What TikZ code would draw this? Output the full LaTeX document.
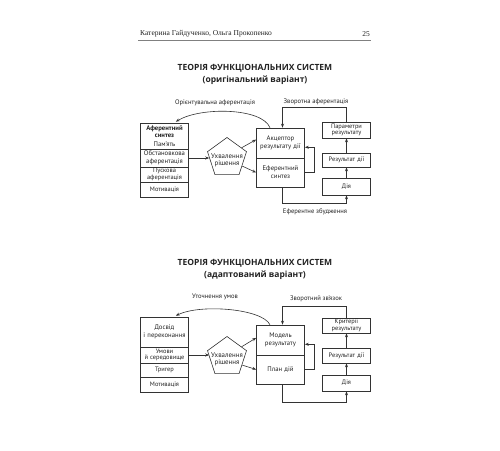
\documentclass[tikz,border=0pt]{standalone}
\usepackage{fontspec}
\setmainfont{Liberation Serif}
\newfontfamily\osans{PT Sans}
\newfontfamily\tsans{Open Sans}
\usetikzlibrary{arrows.meta,shapes.geometric,calc}
\definecolor{lc}{HTML}{333333}
\definecolor{tc}{HTML}{222222}
\begin{document}
\begin{tikzpicture}[x=1pt,y=-1pt,
  ln/.style={draw=lc, line width=0.6pt},
  arr/.style={ln, -{Stealth[length=4pt,width=3pt]}},
  cell/.style={draw=lc, line width=0.6pt, minimum width=48pt, text width=48pt, inner sep=0pt, align=center, font=\osans\fontsize{6.4}{6.3}\selectfont, text=tc},
  wide/.style={font=\osans\fontsize{6.7}{7.8}\selectfont},
  pent/.style={draw=lc, line width=0.6pt, regular polygon, regular polygon sides=5, minimum size=41pt, inner sep=0pt},
  ptxt/.style={align=center, inner sep=0pt, font=\osans\fontsize{6.9}{7.4}\selectfont, text=tc},
  lbl/.style={font=\osans\fontsize{6.6}{7.5}\selectfont, text=tc, inner sep=0pt},
  ttl/.style={font=\tsans\bfseries\fontsize{8.5}{12}\selectfont, text=tc, align=center, inner sep=0pt}]
\useasboundingbox (0,0) rectangle (500,450);
% header
\node (hdrL) [anchor=west, inner sep=0pt, font=\fontsize{7.5}{9}\selectfont, text=tc] at (140,34) {Катерина Гайдученко, Ольга Прокопенко};
\node (hdrR) [anchor=east, inner sep=0pt, font=\fontsize{7.5}{9}\selectfont, text=tc] at (370,34) {25};
\coordinate (hl) at (138,40);
\coordinate (hr) at (371,40);
\draw[draw=gray, line width=0.5pt] (hl) -- (hr);

% ===== diagram 1 =====
\node (t1) [ttl] at (255,74) {ТЕОРІЯ ФУНКЦІОНАЛЬНИХ СИСТЕМ\\(оригінальний варіант)};
\node (la1) [lbl] at (215,103) {Орієнтувальна аферентація};
\node (lb1) [lbl] at (316,102) {Зворотна аферентація};
\node (lc1) [lbl] at (315,212) {Еферентне збудження};

\node (L1a) [cell, wide, minimum height=26pt] at (164.5,136) {\textbf{Аферентний}\\\textbf{синтез}\\[1pt]Пам’ять};
\node (L1b) [cell, wide, minimum height=18pt] at (164.5,158) {Обстановкова\\аферентація};
\node (L1c) [cell, minimum height=15pt] at (164.5,174.5) {Пускова\\аферентація};
\node (L1d) [cell, minimum height=15pt] at (164.5,189.5) {Мотивація};

\node (P1) [pent] at (227,158) {};
\node (P1t) [ptxt] at (227,160) {Ухвалення\\рішення};

\node (M1a) [cell, wide, minimum height=30pt] at (280.5,143) {Акцептор\\результату дії};
\node (M1b) [cell, wide, minimum height=29pt] at (280.5,172.5) {Еферентний\\синтез};

\node (R1a) [cell, minimum height=16pt] at (346.5,130) {Параметри\\результату};
\node (R1b) [cell, minimum height=14pt] at (346.5,160) {Результат дії};
\node (R1c) [cell, minimum height=17pt] at (346.5,186.5) {Дія};

\draw[arr] (L1b.east) -- (L1b.east -| P1.west);
\draw[arr] (P1.35) -- (M1a.172);
\draw[arr] (P1.-28) -- (M1b.west);
\draw[arr] (M1b.east) -- ++(9,0) |- (M1a.-10);
\draw[arr] (R1c.north) -- (R1b.south);
\draw[arr] (R1b.north) -- (R1a.south);
\draw[arr] ([xshift=2pt]M1b.south) -- ++(0,16) -| (R1c.south);
\draw[arr] (R1a.north) -- ++(0,-14) -| ([xshift=2pt]M1a.north);
\draw[arr] ([xshift=-10.5pt]M1a.north) .. controls +(-8,-20) and +(25,-15) .. ([xshift=-13pt,yshift=1pt]L1a.north east);

% ===== diagram 2 =====
\node (t2) [ttl] at (255,269) {ТЕОРІЯ ФУНКЦІОНАЛЬНИХ СИСТЕМ\\(адаптований варіант)};
\node (la2) [lbl] at (215,297) {Уточнення умов};
\node (lb2) [lbl] at (316,299) {Зворотний зв’язок};

\node (L2a) [cell, wide, minimum height=30pt] at (164.5,332) {Досвід\\і переконання};
\node (L2b) [cell, minimum height=16pt] at (164.5,355) {Умови\\й середовище};
\node (L2c) [cell, minimum height=14pt] at (164.5,370) {Тригер};
\node (L2d) [cell, minimum height=15pt] at (164.5,384.5) {Мотивація};

\node (P2) [pent] at (227,357) {};
\node (P2t) [ptxt] at (227,359) {Ухвалення\\рішення};

\node (M2a) [cell, wide, minimum height=30pt] at (280.5,340) {Модель\\результату};
\node (M2b) [cell, wide, minimum height=29pt] at (280.5,369.5) {План дій};

\node (R2a) [cell, minimum height=15pt] at (346.5,325.5) {Критерії\\результату};
\node (R2b) [cell, minimum height=15pt] at (346.5,355.5) {Результат дії};
\node (R2c) [cell, minimum height=16pt] at (346.5,383) {Дія};

\draw[arr] (L2b.east) -- (L2b.east -| P2.west);
\draw[arr] (P2.35) -- (M2a.175);
\draw[arr] (P2.-28) -- (M2b.west);
\draw[arr] (M2b.east) -- ++(9,0) |- (M2a.-10);
\draw[arr] (R2c.north) -- (R2b.south);
\draw[arr] (R2b.north) -- (R2a.south);
\draw[arr] ([xshift=2pt]M2b.south) -- ++(0,18) -| (R2c.south);
\draw[arr] (R2a.north) -- ++(0,-11) -| ([xshift=2pt]M2a.north);
\draw[arr] ([xshift=-10.5pt]M2a.north) .. controls +(-8,-16) and +(25,-12) .. ([xshift=-13pt,yshift=1pt]L2a.north east);
\end{tikzpicture}
\end{document}
